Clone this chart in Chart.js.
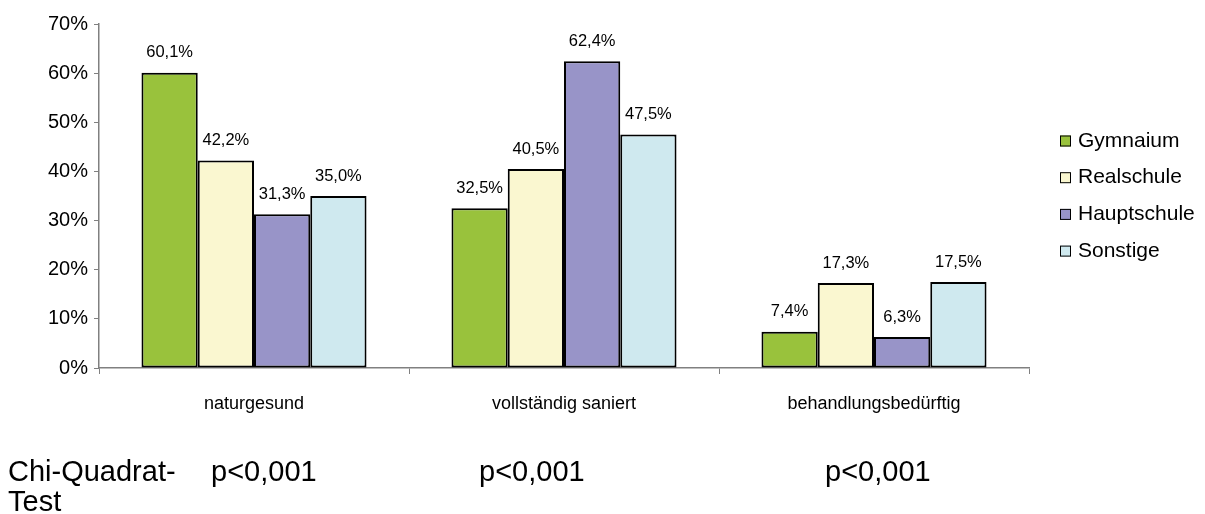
<!DOCTYPE html>
<html>
<head>
<meta charset="utf-8">
<script src="https://cdn.jsdelivr.net/npm/chart.js@4/dist/chart.umd.min.js"></script>
<style>
  html, body { margin: 0; padding: 0; background: #fff; }
  #wrap { width: 1205px; height: 514px; position: relative; }
</style>
</head>
<body>
<div id="wrap"><canvas id="c" width="1205" height="514"></canvas></div>
<script>
// Zahnstatus nach Schulform (Anteile in Prozent)
const categories = ['naturgesund', 'vollständig saniert', 'behandlungsbedürftig'];
const schoolTypes = ['Gymnaium', 'Realschule', 'Hauptschule', 'Sonstige'];
const gymnasium   = [60.1, 32.5, 7.4];
const realschule  = [42.2, 40.5, 17.3];
const hauptschule = [31.3, 62.4, 6.3];
const sonstige    = [35.0, 47.5, 17.5];
const seriesColors = ['#99c23c', '#faf7d0', '#9894c8', '#cfe9ef'];
const yTicks = [0, 10, 20, 30, 40, 50, 60, 70];
const testLabel = ['Chi-Quadrat-', 'Test'];
const pValues = ['p<0,001', 'p<0,001', 'p<0,001'];

const FONT = '"Liberation Sans", Arial, sans-serif';
const fmt = v => v.toFixed(1).replace('.', ',') + '%';

const seriesValues = [gymnasium, realschule, hauptschule, sonstige];

// value labels above each bar
const valueLabels = {
  id: 'valueLabels',
  afterDatasetsDraw(chart) {
    const ctx = chart.ctx;
    ctx.save();
    ctx.font = '16.5px ' + FONT;
    ctx.fillStyle = '#000';
    ctx.textAlign = 'center';
    ctx.textBaseline = 'middle';
    chart.data.datasets.forEach((ds, i) => {
      chart.getDatasetMeta(i).data.forEach((bar, j) => {
        ctx.fillText(fmt(ds.data[j]), bar.x, bar.y - 20);
      });
    });
    ctx.restore();
  }
};

// legend on the right
const sideLegend = {
  id: 'sideLegend',
  afterDraw(chart) {
    const ctx = chart.ctx;
    ctx.save();
    ctx.font = '21px ' + FONT;
    ctx.textBaseline = 'middle';
    ctx.textAlign = 'left';
    chart.data.datasets.forEach((ds, i) => {
      const cy = 141 + i * 36.7;
      ctx.fillStyle = ds.backgroundColor;
      ctx.fillRect(1060, cy - 5.5, 11, 11);
      ctx.strokeStyle = '#000';
      ctx.lineWidth = 1;
      ctx.strokeRect(1060.5, cy - 5, 10, 10);
      ctx.fillStyle = '#000';
      ctx.fillText(ds.label, 1078, cy);
    });
    ctx.restore();
  }
};

// test results below the chart
const testRow = {
  id: 'testRow',
  afterDraw(chart) {
    const ctx = chart.ctx;
    ctx.save();
    ctx.font = '29px ' + FONT;
    ctx.fillStyle = '#000';
    ctx.textBaseline = 'alphabetic';
    ctx.textAlign = 'left';
    ctx.fillText(testLabel[0], 8, 481);
    ctx.fillText(testLabel[1], 8, 511);
    const xs = [211, 479, 825];
    pValues.forEach((t, i) => ctx.fillText(t, xs[i], 481));
    ctx.restore();
  }
};

new Chart(document.getElementById('c'), {
  type: 'bar',
  data: {
    labels: categories,
    datasets: schoolTypes.map((name, i) => ({
      label: name,
      data: seriesValues[i],
      backgroundColor: seriesColors[i],
      borderColor: '#000',
      borderWidth: 2,
      borderSkipped: false,
      categoryPercentage: 0.726,
      barPercentage: 1
    }))
  },
  options: {
    responsive: false,
    animation: false,
    devicePixelRatio: 1,
    layout: { padding: { left: 0, right: 176, top: 24, bottom: 0 } },
    plugins: { legend: { display: false }, tooltip: { enabled: false } },
    scales: {
      x: {
        grid: { offset: true, drawOnChartArea: false, tickLength: 6, color: '#808080', lineWidth: 1 },
        border: { color: '#808080', width: 1.5 },
        ticks: { color: '#000', font: { family: FONT, size: 18 }, padding: 19, maxRotation: 0 },
        afterFit(s) { s.height = 146; }
      },
      y: {
        min: 0,
        max: 70,
        afterBuildTicks(s) { s.ticks = yTicks.map(v => ({ value: v })); },
        grid: { drawOnChartArea: false, tickLength: 5, color: '#808080' },
        border: { color: '#808080', width: 1.5 },
        ticks: { color: '#000', font: { family: FONT, size: 20 }, padding: 6, callback: v => v + '%' },
        afterFit(s) { s.width = 99; }
      }
    }
  },
  plugins: [valueLabels, sideLegend, testRow]
});
</script>
</body>
</html>
